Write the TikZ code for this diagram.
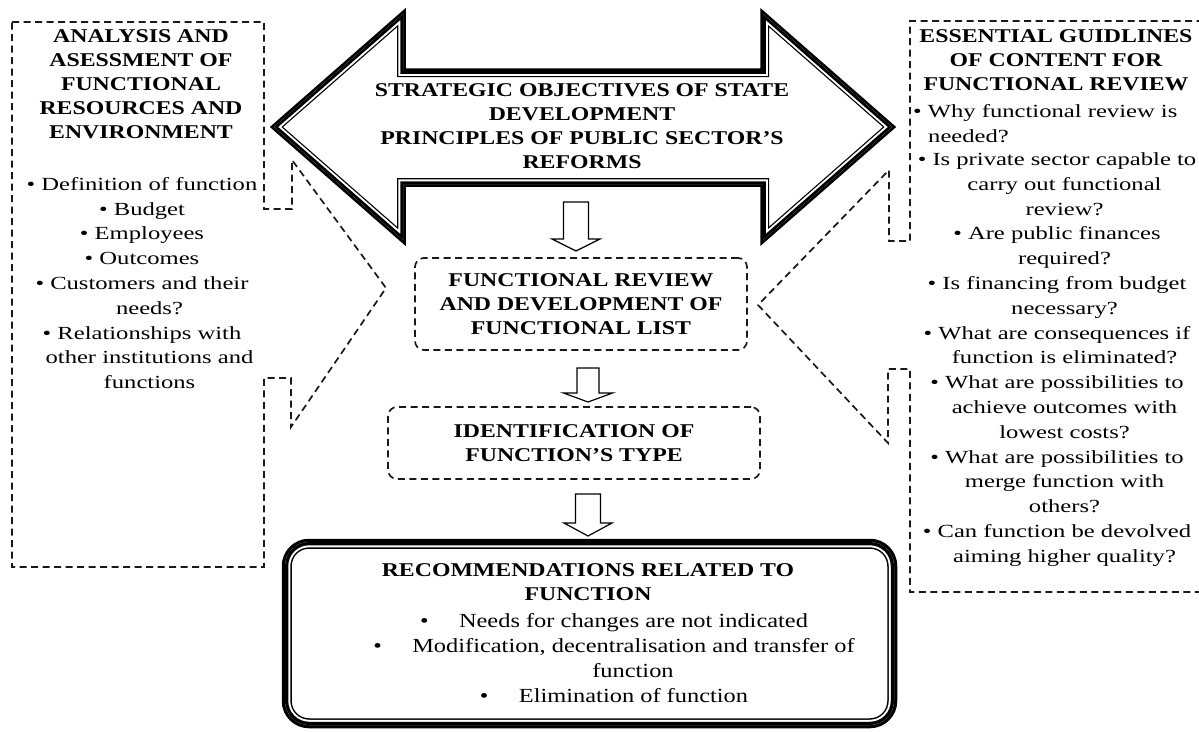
\documentclass[tikz,border=0pt]{standalone}
\usepackage{fontspec}
\setmainfont{Liberation Serif}[FakeStretch=1.22]
\newfontfamily\bodyfont{Liberation Serif}[FakeStretch=1.33]
\newcommand{\ctn}{\hspace*{15pt}}
\newcommand{\bigarrowpath}{(274,127) -- (403,14) -- (403,71) -- (763,71) -- (763,14) -- (892,127) -- (763,240) -- (763,184) -- (403,184) -- (403,240) -- cycle}
\newcommand{\recpath}{[rounded corners=24pt] (285,542) rectangle (894,725)}
\newcommand{\dnarrow}[6]{% centre x, top, head start, tip, shaft half, head half
  \draw[blockarrow] (#1-#5,#2) -- (#1+#5,#2) -- (#1+#5,#3) -- (#1+#6,#3) -- (#1,#4) -- (#1-#6,#3) -- (#1-#5,#3) -- cycle;}
\begin{document}
\begin{tikzpicture}[x=1pt,y=-1pt,
  dashbox/.style={draw=black!90, line width=1.7pt, dash pattern=on 7pt off 4.5pt},
  ttl/.style={font=\fontsize{19.5}{24}\selectfont\bfseries, align=center, inner sep=0pt},
  bodytxt/.style={font=\bodyfont\fontsize{18.5}{24.8}\selectfont, align=center, inner sep=0pt},
  rectxt/.style={font=\fontsize{20}{25.3}\selectfont, align=center, inner sep=0pt},
  blockarrow/.style={draw=black, line width=1.2pt, fill=white, line join=miter},
  miterline/.style={line join=miter, miter limit=12}
]
\useasboundingbox (0,0) rectangle (1199,731);

% ---- big double arrow ----
\fill[white] \bigarrowpath;
\draw[miterline, line width=5.5pt] \bigarrowpath;
\begin{scope}
  \clip \bigarrowpath;
  \draw[miterline, line width=12pt] \bigarrowpath;
  \draw[miterline, white, line width=9.5pt] \bigarrowpath;
  \draw[miterline, line width=5.5pt] \bigarrowpath;
\end{scope}
\node[ttl] (strat) at (582,126) {STRATEGIC OBJECTIVES OF STATE\\DEVELOPMENT\\PRINCIPLES OF PUBLIC SECTOR’S\\REFORMS};

% ---- left callout ----
\draw[dashbox, line join=miter] (12,22) -- (264,22) -- (264,209) -- (292,209) -- (292,160) -- (386,288) -- (291,427) -- (291,378) -- (264,378) -- (264,567) -- (12,567) -- cycle;
\node[ttl] (lefttitle) at (141,84.5) {ANALYSIS AND\\ASESSMENT OF\\FUNCTIONAL\\RESOURCES AND\\ENVIRONMENT};
\node[bodytxt] (leftbody) at (142,283) {• Definition of function\\• Budget\\• Employees\\• Outcomes\\• Customers and their\\\ctn needs?\\• Relationships with\\\ctn other institutions and\\\ctn functions};

% ---- right callout ----
\draw[dashbox, line join=miter] (1215,21) -- (910,21) -- (910,241) -- (889,241) -- (889,170) -- (758,305) -- (888,443) -- (888,369) -- (910,369) -- (910,592) -- (1215,592);
\node[ttl] (righttitle) at (1056,60) {ESSENTIAL GUIDLINES\\OF CONTENT FOR\\FUNCTIONAL REVIEW};
\node[bodytxt, align=left, anchor=west] (rightfirst) at (913,123.5) {• Why functional review is\\\hspace*{15pt}needed?};
\node[bodytxt] (rightbody) at (1057,359.5) {• Is private sector capable to\\\ctn carry out functional\\\ctn review?\\• Are public finances\\\ctn required?\\• Is financing from budget\\\ctn necessary?\\• What are consequences if\\\ctn function is eliminated?\\• What are possibilities to\\\ctn achieve outcomes with\\\ctn lowest costs?\\• What are possibilities to\\\ctn merge function with\\\ctn others?\\• Can function be devolved\\\ctn aiming higher quality?};

% ---- central boxes ----
\node[dashbox, rounded corners=9pt, minimum width=332pt, minimum height=92pt, ttl] (review) at (581,304) {FUNCTIONAL REVIEW\\AND DEVELOPMENT OF\\FUNCTIONAL LIST};
\node[dashbox, rounded corners=9pt, minimum width=372pt, minimum height=72pt, ttl] (ident) at (574,443) {IDENTIFICATION OF\\FUNCTION’S TYPE};

% ---- small block arrows ----
\dnarrow{576}{202}{239}{251}{12.5}{24}
\dnarrow{588}{368}{393}{402}{11}{24.5}
\dnarrow{588}{494}{523}{536}{12.5}{24}

% ---- recommendations box ----
\fill[white] \recpath;
\draw[line width=6.5pt] \recpath;
\begin{scope}
  \clip \recpath;
  \draw[line width=13.5pt] \recpath;
  \draw[white, line width=10.5pt] \recpath;
  \draw[line width=6.5pt] \recpath;
\end{scope}
\node[ttl] (rectitle) at (588,582) {RECOMMENDATIONS RELATED TO\\FUNCTION};
\node[rectxt] (reclist) at (614,658) {\makebox[39pt][l]{•}Needs for changes are not indicated\\\makebox[39pt][l]{•}Modification, decentralisation and transfer of\\\hspace*{38pt}function\\\makebox[39pt][l]{•}Elimination of function};
\end{tikzpicture}
\end{document}
